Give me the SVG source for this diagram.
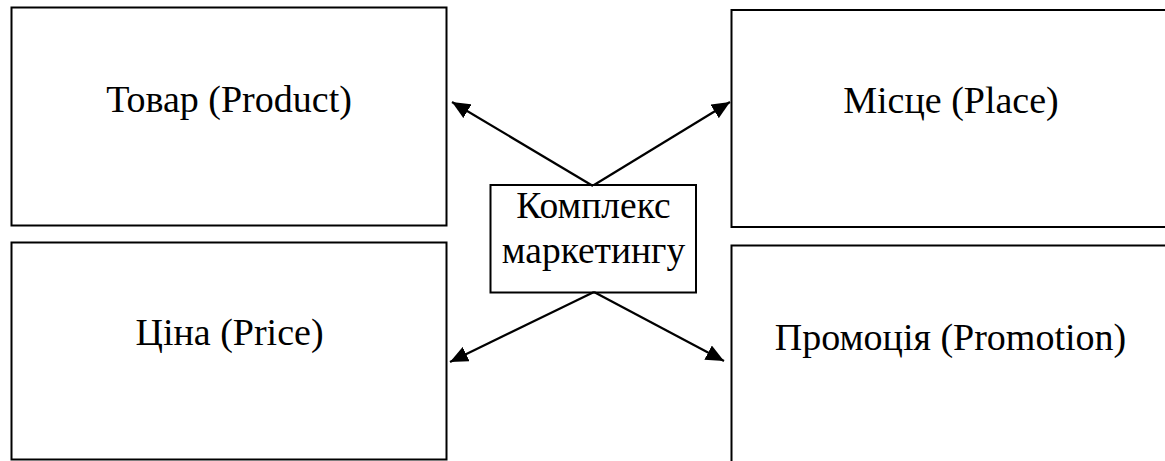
<svg xmlns="http://www.w3.org/2000/svg" width="1165" height="461" viewBox="0 0 1165 461">
  <style>
    .box { fill: #ffffff; stroke: #000000; stroke-width: 2; }
    .label { font-family: "Liberation Serif", "Times New Roman", serif; font-size: 38px; fill: #000000; text-anchor: middle; }
    .hub { font-size: 37.5px; }
    .link { stroke: #000000; stroke-width: 2.2; fill: none; marker-end: url(#arrow); }
  </style>
  <defs>
    <marker id="arrow" markerUnits="userSpaceOnUse" markerWidth="19" markerHeight="16" refX="18" refY="8" orient="auto">
      <path d="M0,0 L18,8 L0,16 Z" fill="#000000"/>
    </marker>
  </defs>
  <rect width="1165" height="461" fill="#ffffff"/>

  <!-- four elements of the marketing mix -->
  <g id="product">
    <rect class="box" x="11.5" y="7.5" width="435" height="218"/>
    <text class="label" x="229" y="112">Товар (Product)</text>
  </g>
  <g id="place">
    <rect class="box" x="731.5" y="10" width="445" height="217"/>
    <text class="label" x="951" y="113">Місце (Place)</text>
  </g>
  <g id="price">
    <rect class="box" x="11.5" y="242.5" width="435" height="217"/>
    <text class="label" x="229.5" y="345">Ціна (Price)</text>
  </g>
  <g id="promotion">
    <rect class="box" x="731.5" y="245.5" width="445" height="230"/>
    <text class="label" x="950.5" y="350">Промоція (Promotion)</text>
  </g>

  <!-- central node -->
  <g id="marketing-mix">
    <rect class="box" x="490.5" y="185" width="205.5" height="107.5"/>
    <text class="label hub" x="593.5" y="218">Комплекс</text>
    <text class="label hub" x="593.5" y="263">маркетингу</text>
  </g>

  <!-- connectors from the centre to each element -->
  <g id="connectors">
    <line class="link" x1="593" y1="186" x2="452" y2="102"/>
    <line class="link" x1="594" y1="185" x2="730" y2="102"/>
    <line class="link" x1="594" y1="292" x2="450" y2="362"/>
    <line class="link" x1="594" y1="292" x2="724" y2="361"/>
  </g>
</svg>
